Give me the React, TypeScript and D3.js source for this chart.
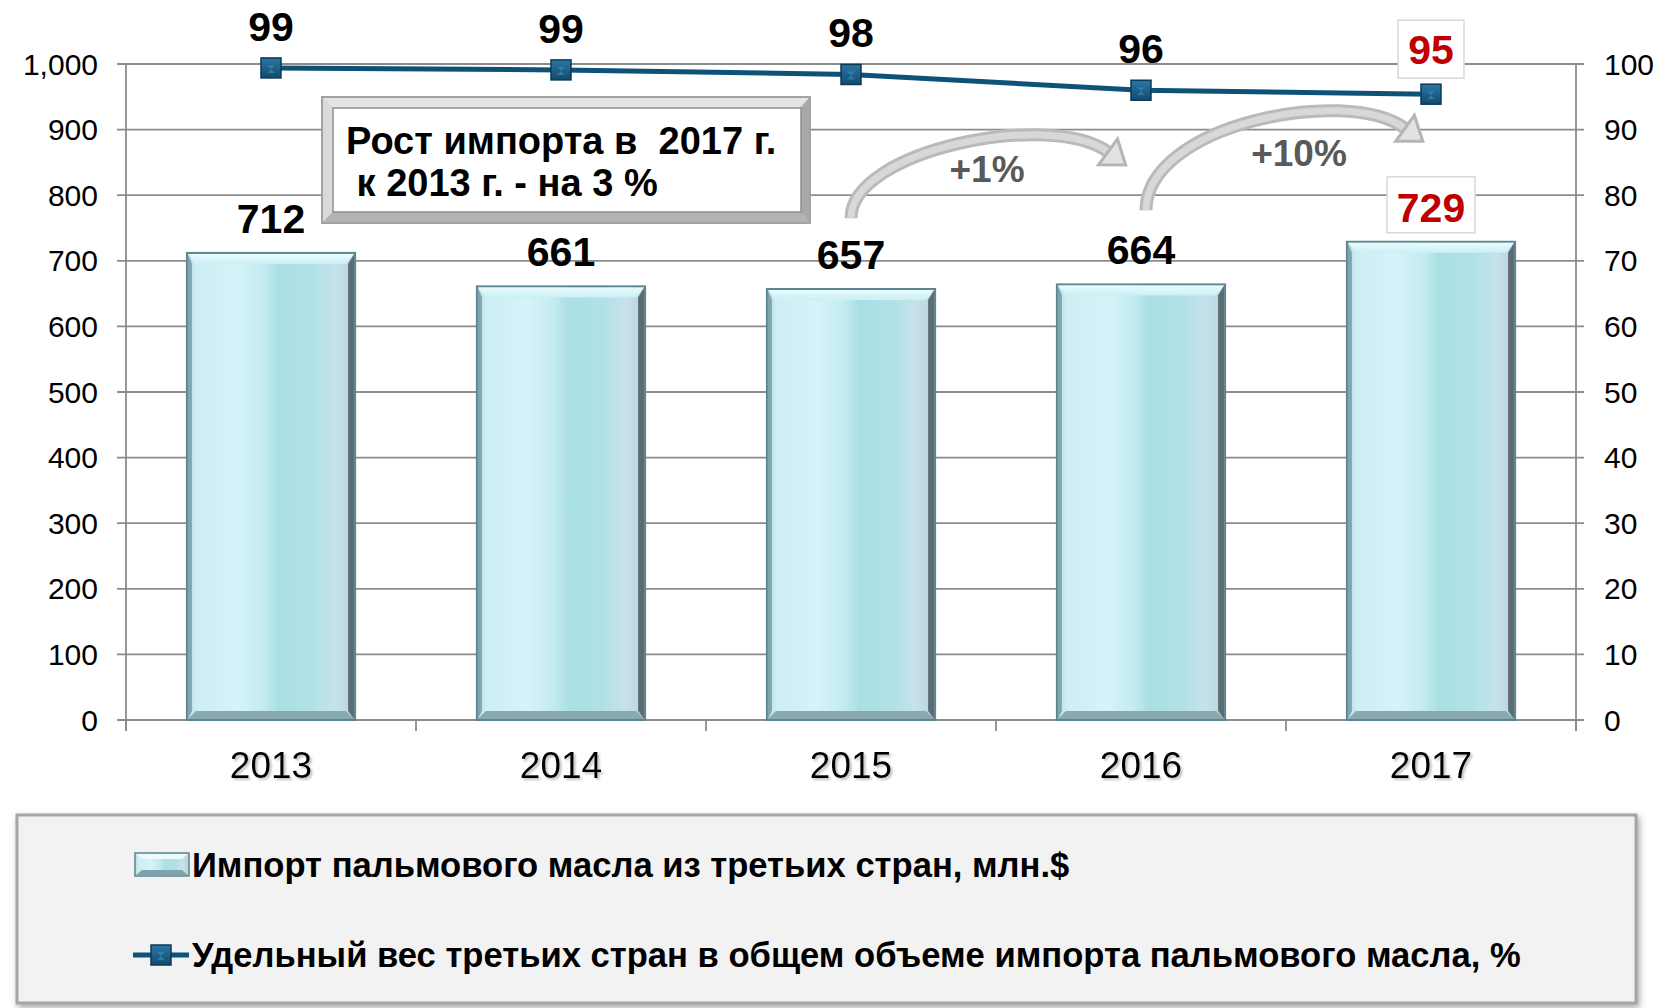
import React from 'react';
import * as d3 from 'd3';

const years = ['2013', '2014', '2015', '2016', '2017'];
const importValues = [712, 661, 657, 664, 729];
const shareValues = [99.4, 99.1, 98.4, 96.0, 95.4];
const leftTicks = [0, 100, 200, 300, 400, 500, 600, 700, 800, 900, 1000];
const rightTicks = [0, 10, 20, 30, 40, 50, 60, 70, 80, 90, 100];
const growthLabels = ['+1%', '+10%'];
const noteLines = ['Рост импорта в  2017 г.', ' к 2013 г. - на 3 %'];
const legendLabels = [
  'Импорт пальмового масла из третьих стран, млн.$',
  'Удельный вес третьих стран в общем объеме импорта пальмового масла, %',
];

const W = 1671;
const H = 1008;
const FONT = 'Arial, "Liberation Sans", sans-serif';
const RED = '#c00000';
const LINE = '#0e5278';
const GRID = '#8c8c8c';

const x = d3.scaleBand<string>().domain(years).range([126, 1576]).paddingInner(0.42).paddingOuter(0.21);
const yL = d3.scaleLinear().domain([0, 1000]).range([720, 64]);
const yR = d3.scaleLinear().domain([0, 100]).range([720, 64]);
const fmt = d3.format(',');

function cx(y: string) {
  return (x(y) as number) + x.bandwidth() / 2;
}

function Marker({ px, py, s = 20 }: { px: number; py: number; s?: number }) {
  return (
    <g>
      <rect x={px - s / 2} y={py - s / 2} width={s} height={s} fill="url(#mk)" stroke="#0b3a57" strokeWidth={1.5} />
      <path
        d={`M${px - 4},${py - 3} L${px + 4},${py - 3} L${px},${py + 1} Z M${px - 4},${py + 5} L${px + 4},${py + 5} L${px},${py + 1} Z`}
        fill="#3b86b3"
        opacity={0.7}
      />
    </g>
  );
}

function Arrow({ p0, c1, c2, p3 }: { p0: number[]; c1: number[]; c2: number[]; p3: number[] }) {
  const dx = p3[0] - c2[0];
  const dy = p3[1] - c2[1];
  const len = Math.hypot(dx, dy);
  const ux = dx / len;
  const uy = dy / len;
  const nx = -uy;
  const ny = ux;
  const tip = [p3[0] + ux * 22, p3[1] + uy * 22];
  const b1 = [p3[0] + nx * 16, p3[1] + ny * 16];
  const b2 = [p3[0] - nx * 16, p3[1] - ny * 16];
  const path = d3.path();
  path.moveTo(p0[0], p0[1]);
  path.bezierCurveTo(c1[0], c1[1], c2[0], c2[1], p3[0], p3[1]);
  return (
    <g>
      <path d={path.toString()} fill="none" stroke="#bababa" strokeWidth={13} />
      <path d={path.toString()} fill="none" stroke="#d8d8d8" strokeWidth={7} />
      <polygon
        points={`${b1[0]},${b1[1]} ${tip[0]},${tip[1]} ${b2[0]},${b2[1]}`}
        fill="#e2e2e2"
        stroke="#b5b5b5"
        strokeWidth={3}
        strokeLinejoin="miter"
      />
    </g>
  );
}

function Bar({ year, value }: { year: string; value: number }) {
  const bx = x(year) as number;
  const bw = x.bandwidth();
  const top = yL(value);
  const bottom = yL(0);
  const bh = bottom - top;
  return (
    <g>
      <rect x={bx} y={top} width={bw} height={bh} fill="url(#barg)" stroke="#5d8590" strokeWidth={2} />
      <polygon
        points={`${bx + 1},${top + 1} ${bx + bw - 1},${top + 1} ${bx + bw - 9},${top + 11} ${bx + 9},${top + 11}`}
        fill="url(#bevTop)"
      />
      <polygon
        points={`${bx + 1},${bottom - 1} ${bx + bw - 1},${bottom - 1} ${bx + bw - 9},${bottom - 9} ${bx + 9},${bottom - 9}`}
        fill="#88a9b0"
      />
      <polygon
        points={`${bx + bw - 1},${top + 1} ${bx + bw - 1},${bottom - 1} ${bx + bw - 7},${bottom - 9} ${bx + bw - 7},${top + 11}`}
        fill="#5b6c74"
      />
      <polygon
        points={`${bx + 1},${top + 1} ${bx + 1},${bottom - 1} ${bx + 5},${bottom - 9} ${bx + 5},${top + 11}`}
        fill="#7fa6ae"
      />
    </g>
  );
}

export default function App() {
  const step = x.step();
  const x0 = x.range()[0];
  const boundaries = d3.range(years.length + 1).map((i) => x0 + i * step);
  const linePath = d3
    .line<number>()
    .x((_, i) => cx(years[i]))
    .y((d) => yR(d))(shareValues) as string;

  const a1 = {
    p0: [cx('2015'), yL(765)],
    c1: [cx('2015'), yL(869)],
    c2: [cx('2015') + 200, yL(930)],
    p3: [cx('2016') - 33, yL(866)],
  };
  const a2 = {
    p0: [cx('2016') + 5, yL(777)],
    c1: [cx('2016') + 5, yL(907)],
    c2: [cx('2016') + 204, yL(968)],
    p3: [cx('2017') - 26, yL(902)],
  };

  return (
    <svg
      width={W}
      height={H}
      viewBox={`0 0 ${W} ${H}`}
      style={{ position: 'absolute', left: 0, top: 0, background: '#fff' }}
      fontFamily={FONT}
    >
      <defs>
        <linearGradient id="barg" x1="0" x2="1" y1="0" y2="0">
          <stop offset="0%" stopColor="#b6dbe2" />
          <stop offset="6%" stopColor="#cdeef4" />
          <stop offset="30%" stopColor="#d6f3f9" />
          <stop offset="45%" stopColor="#c4ecf0" />
          <stop offset="55%" stopColor="#a9dfe3" />
          <stop offset="75%" stopColor="#b1e1e6" />
          <stop offset="88%" stopColor="#c6e2ec" />
          <stop offset="100%" stopColor="#b9d2dc" />
        </linearGradient>
        <linearGradient id="bevTop" x1="0" x2="0" y1="0" y2="1">
          <stop offset="0%" stopColor="#e9fbfd" />
          <stop offset="100%" stopColor="#c9f0f5" />
        </linearGradient>
        <linearGradient id="mk" x1="0" x2="0" y1="0" y2="1">
          <stop offset="0%" stopColor="#2a77a6" />
          <stop offset="100%" stopColor="#14496c" />
        </linearGradient>
        <filter id="shadow" x="-5%" y="-10%" width="110%" height="125%">
          <feDropShadow dx="2" dy="3" stdDeviation="3" floodColor="#808080" floodOpacity="0.7" />
        </filter>
        <filter id="txtsh" x="-10%" y="-20%" width="120%" height="140%">
          <feDropShadow dx="2" dy="2" stdDeviation="1" floodColor="#999" floodOpacity="0.6" />
        </filter>
      </defs>

      {/* gridlines with outward ticks */}
      {leftTicks.map((t) => (
        <line key={'g' + t} x1={117} x2={1584} y1={yL(t)} y2={yL(t)} stroke={GRID} strokeWidth={1.8} />
      ))}
      {/* axes */}
      <line x1={x0} x2={x0} y1={yL(1000)} y2={yL(0) + 11} stroke={GRID} strokeWidth={1.8} />
      <line x1={1576} x2={1576} y1={yR(100)} y2={yL(0) + 11} stroke={GRID} strokeWidth={1.8} />
      {boundaries.map((b, i) => (
        <line key={'xt' + i} x1={b} x2={b} y1={yL(0)} y2={yL(0) + 11} stroke={GRID} strokeWidth={1.8} />
      ))}

      {/* axis labels */}
      {leftTicks.map((t) => (
        <text key={'ll' + t} x={98} y={yL(t)} dy="0.35em" textAnchor="end" fontSize={30} fill="#000">
          {fmt(t)}
        </text>
      ))}
      {rightTicks.map((t) => (
        <text key={'rl' + t} x={1604} y={yR(t)} dy="0.35em" textAnchor="start" fontSize={30} fill="#000">
          {t}
        </text>
      ))}
      {years.map((y) => (
        <text key={'xl' + y} x={cx(y)} y={778} textAnchor="middle" fontSize={37} fill="#000" filter="url(#txtsh)">
          {y}
        </text>
      ))}

      {/* bars */}
      {years.map((y, i) => (
        <Bar key={'b' + y} year={y} value={importValues[i]} />
      ))}

      {/* note box */}
      <g>
        <rect x={322} y={97} width={488} height={126} fill="#c9c9c9" stroke="#a2a2a2" strokeWidth={2} />
        <polygon points="323,98 809,98 799,108 333,108" fill="#e4e4e4" />
        <polygon points="323,98 333,108 333,212 323,222" fill="#dadada" />
        <polygon points="809,98 809,222 801,212 801,108" fill="#a9a9a9" />
        <polygon points="323,222 809,222 801,212 333,212" fill="#b3b3b3" />
        <rect x={333} y={108} width={468} height={104} fill="#fff" stroke="#8e8e8e" strokeWidth={1.5} />
        {noteLines.map((l, i) => (
          <text
            key={'n' + i}
            x={346}
            y={154 + i * 42}
            fontSize={38}
            fontWeight="bold"
            fill="#000"
            style={{ whiteSpace: 'pre' }}
          >
            {l}
          </text>
        ))}
      </g>

      {/* growth arrows */}
      <Arrow {...a1} />
      <Arrow {...a2} />
      <text x={cx('2015') + 136} y={182} textAnchor="middle" fontSize={37} fontWeight="bold" fill="#595959">
        {growthLabels[0]}
      </text>
      <text x={cx('2016') + 158} y={166} textAnchor="middle" fontSize={37} fontWeight="bold" fill="#595959">
        {growthLabels[1]}
      </text>

      {/* line series */}
      <path d={linePath} fill="none" stroke={LINE} strokeWidth={5} />
      {years.map((y, i) => (
        <Marker key={'m' + y} px={cx(y)} py={yR(shareValues[i])} />
      ))}

      {/* bar value labels */}
      {years.map((y, i) => {
        const last = i === years.length - 1;
        const by = yL(importValues[i]) - 20;
        return (
          <g key={'bl' + y}>
            {last && (
              <rect x={cx(y) - 44} y={by - 45} width={88} height={56} fill="#fff" stroke="#d9d9d9" strokeWidth={1.5} />
            )}
            <text x={cx(y)} y={by} textAnchor="middle" fontSize={41} fontWeight="bold" fill={last ? RED : '#000'}>
              {importValues[i]}
            </text>
          </g>
        );
      })}

      {/* line value labels */}
      {years.map((y, i) => {
        const last = i === years.length - 1;
        const ly = last ? yR(shareValues[i]) - 30 : yR(shareValues[i]) - 27;
        return (
          <g key={'ll' + y}>
            {last && (
              <rect x={cx(y) - 33} y={ly - 44} width={66} height={58} fill="#fff" stroke="#d9d9d9" strokeWidth={1.5} />
            )}
            <text x={cx(y)} y={ly} textAnchor="middle" fontSize={41} fontWeight="bold" fill={last ? RED : '#000'}>
              {Math.round(shareValues[i])}
            </text>
          </g>
        );
      })}

      {/* legend */}
      <g>
        <rect x={17} y={815} width={1619} height={188} fill="#f2f2f2" stroke="#a6a6a6" strokeWidth={3} filter="url(#shadow)" />
        <rect x={135} y={853} width={54} height={23} fill="url(#barg)" stroke="#5d8590" strokeWidth={1.5} />
        <polygon points="136,854 188,854 182,859 142,859" fill="#eafbfd" />
        <polygon points="136,875 188,875 182,870 142,870" fill="#7fa3aa" />
        <text x={192} y={865} dy="0.35em" fontSize={34.6} fontWeight="bold" fill="#000">
          {legendLabels[0]}
        </text>
        <line x1={133} x2={189} y1={955} y2={955} stroke={LINE} strokeWidth={5} />
        <Marker px={161} py={955} s={20} />
        <text x={192} y={955} dy="0.35em" fontSize={34.6} fontWeight="bold" fill="#000">
          {legendLabels[1]}
        </text>
      </g>
    </svg>
  );
}
